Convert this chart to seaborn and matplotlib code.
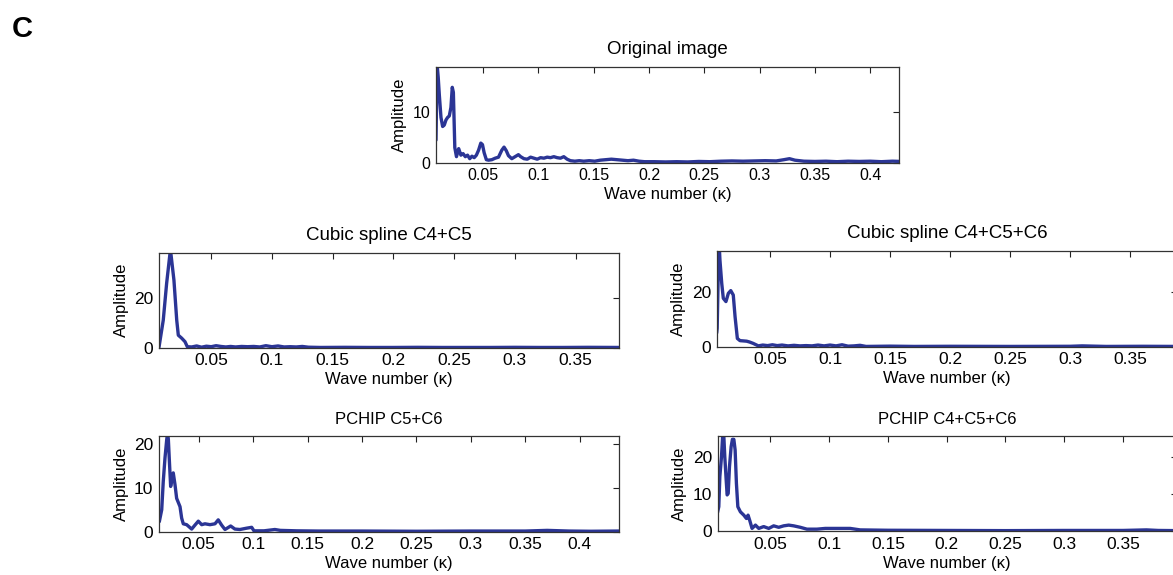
import numpy as np
import matplotlib
matplotlib.use("Agg")
import matplotlib.pyplot as plt
import seaborn as sns

# ---------------- data ----------------
orig_k = [0.0075, 0.0085, 0.0095, 0.0105, 0.012, 0.0135, 0.015, 0.0165, 0.018, 0.0195,
          0.021, 0.0222, 0.0232, 0.0245, 0.026, 0.028, 0.030, 0.032, 0.034, 0.036,
          0.038, 0.040, 0.042, 0.044, 0.046, 0.048, 0.0495, 0.051, 0.053, 0.055,
          0.058, 0.061, 0.064, 0.067, 0.069, 0.071, 0.073, 0.076, 0.079, 0.082,
          0.084, 0.087, 0.090, 0.093, 0.096, 0.099, 0.102, 0.105, 0.108, 0.111,
          0.114, 0.117, 0.120, 0.123, 0.126, 0.129, 0.133, 0.137, 0.141, 0.146,
          0.151, 0.156, 0.161, 0.166, 0.171, 0.176, 0.181, 0.186, 0.191, 0.196,
          0.205, 0.215, 0.225, 0.235, 0.245, 0.255, 0.265, 0.275, 0.285, 0.295,
          0.305, 0.315, 0.322, 0.327, 0.332, 0.340, 0.350, 0.360, 0.370, 0.380,
          0.390, 0.400, 0.410, 0.420, 0.428]
orig_amp = [4.5, 19.5, 17.0, 13.5, 9.0, 7.2, 7.5, 8.5, 9.0, 9.3,
            11.0, 15.0, 14.0, 3.0, 1.2, 2.8, 1.5, 1.8, 1.2, 1.5,
            0.8, 1.3, 1.0, 1.5, 2.5, 3.9, 3.6, 2.0, 0.6, 0.5,
            0.6, 0.9, 1.1, 2.5, 3.1, 2.4, 1.4, 0.8, 1.2, 1.6,
            1.2, 0.8, 0.7, 1.1, 0.9, 0.7, 1.0, 0.9, 1.1, 1.0,
            1.2, 1.0, 0.9, 1.2, 0.7, 0.4, 0.3, 0.4, 0.3, 0.4,
            0.3, 0.5, 0.6, 0.7, 0.6, 0.5, 0.4, 0.5, 0.3, 0.2,
            0.2, 0.15, 0.2, 0.15, 0.25, 0.2, 0.3, 0.35, 0.3, 0.35,
            0.4, 0.35, 0.6, 0.8, 0.5, 0.3, 0.25, 0.3, 0.2, 0.3,
            0.25, 0.3, 0.2, 0.3, 0.25]

cs45_k = [0.007, 0.0105, 0.0133, 0.016, 0.0166, 0.0193, 0.0216, 0.0229, 0.0257, 0.0284,
          0.0303, 0.034, 0.038, 0.042, 0.046, 0.050, 0.054, 0.058, 0.062, 0.066,
          0.070, 0.075, 0.080, 0.085, 0.090, 0.095, 0.100, 0.105, 0.110, 0.115,
          0.120, 0.125, 0.130, 0.140, 0.160, 0.180, 0.200, 0.220, 0.240, 0.260,
          0.280, 0.300, 0.320, 0.340, 0.360, 0.386]
cs45_amp = [0.2, 11.0, 25.8, 37.5, 38.5, 27.0, 11.0, 5.0, 3.8, 2.4,
            0.4, 0.3, 0.7, 0.2, 0.6, 0.4, 0.8, 0.5, 0.3, 0.5,
            0.3, 0.5, 0.4, 0.5, 0.3, 0.8, 0.4, 0.7, 0.3, 0.4,
            0.3, 0.5, 0.2, 0.1, 0.15, 0.1, 0.1, 0.15, 0.1, 0.1,
            0.1, 0.15, 0.1, 0.1, 0.15, 0.1]

cs456_k = [0.0056, 0.006, 0.0068, 0.0073, 0.0078, 0.0083, 0.0098, 0.0111, 0.0133, 0.0153,
           0.0173, 0.0194, 0.0209, 0.0228, 0.025, 0.028, 0.0306, 0.033, 0.036, 0.0403,
           0.044, 0.048, 0.052, 0.056, 0.060, 0.065, 0.070, 0.075, 0.080, 0.085,
           0.090, 0.095, 0.100, 0.105, 0.110, 0.115, 0.120, 0.125, 0.130, 0.150,
           0.170, 0.200, 0.250, 0.300, 0.310, 0.330, 0.360, 0.390]
cs456_amp = [5.0, 6.7, 25.0, 35.0, 36.0, 31.5, 23.0, 17.6, 16.4, 19.4,
             20.4, 18.8, 10.9, 3.0, 2.2, 2.1, 2.0, 1.7, 1.2, 0.3,
             0.6, 0.4, 0.7, 0.4, 0.6, 0.3, 0.5, 0.3, 0.4, 0.3,
             0.6, 0.3, 0.6, 0.3, 0.7, 0.2, 0.3, 0.5, 0.1, 0.2,
             0.1, 0.15, 0.1, 0.15, 0.3, 0.1, 0.15, 0.1]

pc56_k = [0.0139, 0.0161, 0.0175, 0.0191, 0.0207, 0.0215, 0.0222, 0.023, 0.0243, 0.0255,
          0.0267, 0.0283, 0.0298, 0.0329, 0.0344, 0.0359, 0.039, 0.0436, 0.0466, 0.0497,
          0.0528, 0.0558, 0.0604, 0.065, 0.068, 0.0711, 0.0742, 0.0794, 0.0833, 0.0879,
          0.094, 0.0987, 0.1008, 0.110, 0.120, 0.125, 0.140, 0.160, 0.200, 0.250,
          0.300, 0.350, 0.370, 0.390, 0.410, 0.436]
pc56_amp = [2.3, 5.0, 11.4, 16.8, 21.0, 22.5, 21.0, 16.8, 10.3, 12.2,
            13.4, 10.7, 7.6, 5.7, 3.1, 1.8, 1.6, 0.6, 1.5, 2.4,
            1.6, 1.8, 1.6, 1.8, 2.7, 1.5, 0.5, 1.3, 0.6, 0.5,
            0.8, 1.0, 0.2, 0.2, 0.5, 0.3, 0.2, 0.15, 0.15, 0.1,
            0.15, 0.15, 0.3, 0.15, 0.1, 0.15]

pc456_k = [0.0050, 0.0061, 0.0070, 0.0084, 0.0095, 0.0102, 0.0112, 0.0124, 0.0132, 0.0141,
           0.0152, 0.0166, 0.0177, 0.0189, 0.0200, 0.0211, 0.0223, 0.0245, 0.0274, 0.0296,
           0.0310, 0.0325, 0.0344, 0.0373, 0.0401, 0.0443, 0.0486, 0.0528, 0.0571, 0.0613,
           0.0656, 0.0698, 0.0755, 0.0811, 0.0896, 0.0967, 0.1038, 0.1179, 0.1264, 0.150,
           0.200, 0.250, 0.300, 0.350, 0.370, 0.380, 0.396]
pc456_amp = [5.0, 6.6, 14.8, 20.2, 26.5, 27.0, 20.2, 13.8, 9.8, 10.2,
             17.5, 22.9, 24.9, 24.9, 22.0, 12.9, 6.6, 5.2, 4.3, 3.4,
             4.3, 2.8, 0.7, 1.6, 0.7, 1.2, 0.7, 1.4, 1.0, 1.4,
             1.6, 1.4, 1.0, 0.5, 0.5, 0.7, 0.7, 0.7, 0.3, 0.2,
             0.15, 0.1, 0.15, 0.15, 0.3, 0.15, 0.1]

titles = ["Original image", "Cubic spline C4+C5", "Cubic spline C4+C5+C6",
          "PCHIP C5+C6", "PCHIP C4+C5+C6"]
xticks_a = [0.05, 0.1, 0.15, 0.2, 0.25, 0.3, 0.35, 0.4]
xticks_b = [0.05, 0.1, 0.15, 0.2, 0.25, 0.3, 0.35]
x_label = "Wave number (\u03ba)"
y_label = "Amplitude"
panel_letter = "C"

# ---------------- style ----------------
sns.set_style("white")
plt.rcParams["font.family"] = ["Liberation Sans", "DejaVu Sans"]
plt.rcParams["text.color"] = "black"
plt.rcParams["axes.labelcolor"] = "black"
plt.rcParams["axes.titlecolor"] = "black"

W, H = 1173, 575
fig = plt.figure(figsize=(W / 100, H / 100), dpi=100)

def rect(l, r, t, b):
    return [l / W, 1 - b / H, (r - l) / W, (b - t) / H]

LINE = "#2b3595"

panels = [
    dict(pos=rect(436, 899, 66.7, 162.7), k=orig_k, a=orig_amp, xlim=(0.0075, 0.426),
         ylim=(0, 19.1), yt=[0, 10], xt=xticks_a, title=titles[0], tfs=13.5, fs=11.5),
    dict(pos=rect(159, 619.3, 252.7, 347.7), k=cs45_k, a=cs45_amp, xlim=(0.007, 0.386),
         ylim=(0, 38), yt=[0, 20], xt=xticks_b, title=titles[1], tfs=13.5, fs=12.5),
    dict(pos=rect(716.7, 1177, 251, 346.7), k=cs456_k, a=cs456_amp, xlim=(0.0056, 0.389),
         ylim=(0, 34.8), yt=[0, 20], xt=xticks_b, title=titles[2], tfs=13.5, fs=12.5),
    dict(pos=rect(159, 619, 436, 531.7), k=pc56_k, a=pc56_amp, xlim=(0.0136, 0.436),
         ylim=(0, 21.8), yt=[0, 10, 20], xt=xticks_a, title=titles[3], tfs=12, fs=12.5),
    dict(pos=rect(717.5, 1177, 436, 531), k=pc456_k, a=pc456_amp, xlim=(0.005, 0.396),
         ylim=(0, 25.8), yt=[0, 10, 20], xt=xticks_b, title=titles[4], tfs=12, fs=12.5),
]

for p in panels:
    ax = fig.add_axes(p["pos"])
    sns.lineplot(x=p["k"], y=p["a"], ax=ax, color=LINE, linewidth=2.4)
    ax.set_xlim(*p["xlim"])
    ax.set_ylim(*p["ylim"])
    ax.set_xticks(p["xt"])
    ax.set_xticklabels([f"{v:g}" for v in p["xt"]])
    ax.set_yticks(p["yt"])
    ax.tick_params(direction="in", top=True, right=True, length=4, width=0.8,
                   labelsize=p["fs"], colors="#222222", labelcolor="black", pad=4)
    for s in ax.spines.values():
        s.set_color("#333333")
        s.set_linewidth(0.9)
    ax.set_title(p["title"], fontsize=p["tfs"], pad=9, color="black")
    ax.set_xlabel(x_label, fontsize=12, labelpad=3, color="black")
    ax.set_ylabel(y_label, fontsize=12, labelpad=4, color="black")
    ax.grid(False)

fig.text(12 / W, 1 - 37 / H, panel_letter, fontsize=21, fontweight="bold",
         ha="left", va="baseline", color="black")

fig.savefig("out.png", dpi=100)
